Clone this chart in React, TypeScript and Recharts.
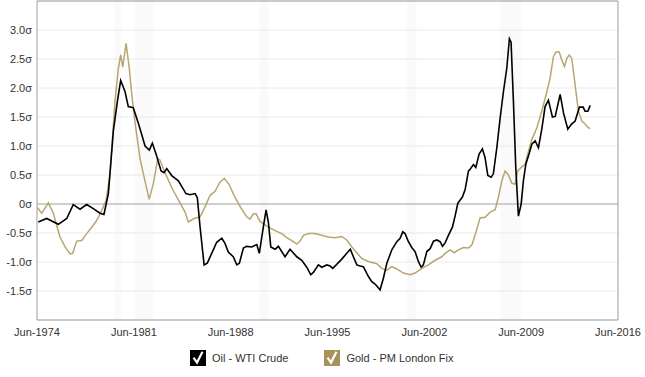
import React from 'react';
import { LineChart, Line, XAxis, YAxis, CartesianGrid, ReferenceArea, ReferenceLine, Legend } from 'recharts';

const oilYears = [1974.51,1975.12,1975.96,1976.57,1977.04,1977.53,1978.01,1978.49,1978.98,1979.26,1979.58,1979.94,1980.23,1980.47,1980.78,1981.02,1981.38,1981.75,1981.99,1982.23,1982.54,1982.76,1983.03,1983.39,1983.60,1983.80,1984.16,1984.64,1985.19,1985.48,1985.85,1986.01,1986.21,1986.50,1986.73,1987.05,1987.41,1987.78,1988.01,1988.25,1988.61,1988.86,1989.05,1989.34,1989.58,1989.95,1990.31,1990.49,1990.78,1990.98,1991.15,1991.32,1991.63,1991.87,1992.35,1992.71,1993.20,1993.56,1993.92,1994.21,1994.40,1994.76,1995.01,1995.37,1995.61,1995.80,1996.09,1996.45,1996.81,1997.07,1997.29,1997.54,1997.78,1998.01,1998.38,1998.62,1998.86,1999.22,1999.46,1999.71,2000.07,2000.43,2000.67,2000.86,2001.03,2001.27,2001.51,2001.75,2001.99,2002.19,2002.35,2002.60,2002.84,2003.08,2003.32,2003.56,2003.73,2003.92,2004.16,2004.45,2004.65,2004.84,2005.01,2005.17,2005.37,2005.61,2005.73,2005.97,2006.14,2006.38,2006.62,2006.81,2007.01,2007.25,2007.41,2007.66,2007.90,2008.14,2008.38,2008.57,2008.69,2008.86,2009.03,2009.22,2009.42,2009.58,2009.76,2009.95,2010.19,2010.43,2010.67,2010.91,2011.15,2011.39,2011.68,2011.88,2012.24,2012.48,2012.79,2013.03,2013.32,2013.63,2013.90,2014.04,2014.24,2014.41];
const oilValues = [-0.31,-0.25,-0.35,-0.25,-0.01,-0.09,-0.01,-0.08,-0.16,-0.18,0.18,1.26,1.77,2.13,1.94,1.68,1.66,1.39,1.20,1.00,0.93,1.05,0.86,0.57,0.54,0.61,0.49,0.40,0.18,0.16,0.18,0.11,-0.40,-1.05,-1.02,-0.85,-0.66,-0.59,-0.68,-0.83,-0.91,-1.05,-1.02,-0.76,-0.73,-0.74,-0.70,-0.85,-0.40,-0.10,-0.32,-0.74,-0.78,-0.73,-0.91,-0.78,-0.91,-0.97,-1.09,-1.22,-1.18,-1.05,-1.09,-1.05,-1.07,-1.11,-1.04,-0.95,-0.85,-0.78,-0.91,-1.05,-1.07,-1.08,-1.25,-1.34,-1.38,-1.48,-1.28,-1.02,-0.79,-0.65,-0.59,-0.48,-0.51,-0.65,-0.75,-0.82,-0.99,-1.09,-1.05,-0.82,-0.77,-0.64,-0.62,-0.65,-0.73,-0.67,-0.54,-0.40,-0.20,0.01,0.07,0.12,0.25,0.57,0.60,0.68,0.63,0.86,0.95,0.80,0.49,0.46,0.52,0.97,1.48,1.94,2.34,2.85,2.79,1.77,0.63,-0.21,0.00,0.40,0.69,0.83,1.03,1.09,0.97,1.29,1.68,1.79,1.50,1.51,1.89,1.57,1.29,1.37,1.43,1.67,1.67,1.60,1.60,1.70];

const goldYears = [1974.44,1974.76,1975.24,1975.60,1976.08,1976.45,1976.81,1977.00,1977.29,1977.65,1978.01,1978.38,1978.74,1979.10,1979.41,1979.70,1980.06,1980.30,1980.47,1980.62,1980.86,1981.09,1981.27,1981.51,1981.87,1982.11,1982.53,1982.83,1983.15,1983.31,1983.68,1984.16,1984.64,1985.12,1985.36,1985.77,1986.21,1986.57,1986.93,1987.29,1987.65,1987.96,1988.30,1988.66,1989.17,1989.58,1989.82,1990.06,1990.26,1990.54,1990.78,1991.15,1991.63,1992.11,1992.48,1992.95,1993.20,1993.44,1993.68,1994.04,1994.52,1995.01,1995.48,1995.97,1996.45,1996.81,1997.18,1997.54,1997.90,1998.38,1998.98,1999.34,1999.71,2000.07,2000.43,2000.91,2001.39,2001.75,2002.24,2002.71,2003.20,2003.68,2003.92,2004.28,2004.59,2004.88,2005.25,2005.61,2005.87,2006.20,2006.45,2006.81,2007.18,2007.54,2007.78,2008.02,2008.26,2008.50,2008.74,2008.98,2009.18,2009.47,2009.71,2009.95,2010.19,2010.55,2010.91,2011.28,2011.51,2011.75,2011.93,2012.17,2012.36,2012.55,2012.72,2012.89,2013.08,2013.32,2013.56,2013.81,2014.04,2014.24,2014.41];
const goldValues = [-0.06,-0.16,0.02,-0.16,-0.57,-0.74,-0.86,-0.85,-0.64,-0.63,-0.51,-0.40,-0.28,-0.11,0.06,0.52,1.77,2.34,2.57,2.36,2.77,2.34,1.89,1.40,0.78,0.52,0.08,0.35,0.78,0.76,0.54,0.28,0.07,-0.14,-0.31,-0.25,-0.22,-0.05,0.15,0.22,0.38,0.44,0.34,0.15,-0.07,-0.22,-0.26,-0.17,-0.17,-0.30,-0.34,-0.40,-0.46,-0.51,-0.58,-0.65,-0.69,-0.64,-0.54,-0.51,-0.51,-0.54,-0.57,-0.58,-0.56,-0.62,-0.74,-0.84,-0.94,-0.99,-1.03,-1.11,-1.14,-1.08,-1.12,-1.19,-1.22,-1.19,-1.11,-1.05,-0.97,-0.91,-0.85,-0.79,-0.84,-0.79,-0.75,-0.76,-0.70,-0.45,-0.24,-0.23,-0.14,-0.10,0.12,0.40,0.57,0.50,0.36,0.34,0.57,0.64,0.69,0.91,1.11,1.31,1.60,1.94,2.17,2.54,2.62,2.62,2.48,2.37,2.51,2.57,2.51,2.05,1.60,1.43,1.38,1.32,1.30];

const recessionStarts = [1980.0, 1981.5, 1990.5, 2001.17, 2007.92];
const recessionEnds = [1980.5, 1982.83, 1991.17, 2001.83, 2009.42];

const xTicks = [1974.42, 1981.42, 1988.42, 1995.42, 2002.42, 2009.42, 2016.42];
const yTicks = [-1.5, -1.0, -0.5, 0, 0.5, 1.0, 1.5, 2.0, 2.5, 3.0];

const seriesNames = ['Oil - WTI Crude', 'Gold - PM London Fix'];

const oilData = oilYears.map((t, i) => ({ t, v: oilValues[i] }));
const goldData = goldYears.map((t, i) => ({ t, v: goldValues[i] }));

const OIL = '#000000';
const GOLD_LINE = '#b8a672';
const GOLD_BOX = '#a8925a';
const FONT = 'Liberation Sans, Arial, Helvetica, sans-serif';

const CheckBox = ({ color }: { color: string }) => (
  <svg width={16} height={16} style={{ display: 'block' }}>
    <rect x={0} y={0} width={16} height={16} fill={color} />
    <path d="M4.2 8.6 L7 12.6 L12 2.8" stroke="#fff" strokeWidth={2.2} fill="none" strokeLinecap="square" />
  </svg>
);

const renderLegend = () => (
  <div style={{ display: 'flex', alignItems: 'center', fontFamily: FONT, fontSize: 11, color: '#333' }}>
    <CheckBox color={OIL} />
    <span style={{ marginLeft: 6, marginRight: 36 }}>{seriesNames[0]}</span>
    <CheckBox color={GOLD_BOX} />
    <span style={{ marginLeft: 6 }}>{seriesNames[1]}</span>
  </div>
);

const fmtX = (t: number) => 'Jun-' + Math.floor(t);
const fmtY = (v: number) => (v === 0 ? '0σ' : v.toFixed(1) + 'σ');

export default function App() {
  return (
    <div style={{ position: 'absolute', left: 0, top: 0 }}>
      <LineChart width={645} height={377} margin={{ top: 1, right: 27, bottom: 27, left: 0 }}>
        {recessionStarts.map((s, i) => (
          <ReferenceArea key={'r' + i} x1={s} x2={recessionEnds[i]} y1={-2} y2={3.5} fill="#e6e8ef" fillOpacity={0.22} stroke="none" />
        ))}
        <CartesianGrid vertical={false} stroke="#eaeaea" />
        <XAxis
          type="number"
          dataKey="t"
          domain={[1974.42, 2016.42]}
          ticks={xTicks}
          tickFormatter={fmtX}
          axisLine={false}
          tickLine={false}
          allowDataOverflow
          tick={{ fontSize: 11, fill: '#333', fontFamily: FONT }}
        />
        <YAxis
          type="number"
          domain={[-2, 3.5]}
          ticks={yTicks}
          tickFormatter={fmtY}
          width={37}
          axisLine={false}
          tickLine={false}
          tickSize={3}
          tickMargin={2}
          allowDataOverflow
          tick={{ fontSize: 11, fill: '#333', fontFamily: FONT }}
        />
        <ReferenceLine y={0} stroke="#a8a8a8" />
        <Line data={goldData} dataKey="v" name={seriesNames[1]} type="linear" stroke={GOLD_LINE} strokeWidth={1.5} dot={false} isAnimationActive={false} />
        <Line data={oilData} dataKey="v" name={seriesNames[0]} type="linear" stroke={OIL} strokeWidth={1.6} dot={false} isAnimationActive={false} />
        <ReferenceArea x1={1974.42} x2={2016.42} y1={-2} y2={3.5} fill="none" stroke="#9e9e9e" />
        <Legend layout="horizontal" verticalAlign="middle" align="center" content={renderLegend} wrapperStyle={{ top: 350, left: 190, width: 'auto' }} />
      </LineChart>
    </div>
  );
}
